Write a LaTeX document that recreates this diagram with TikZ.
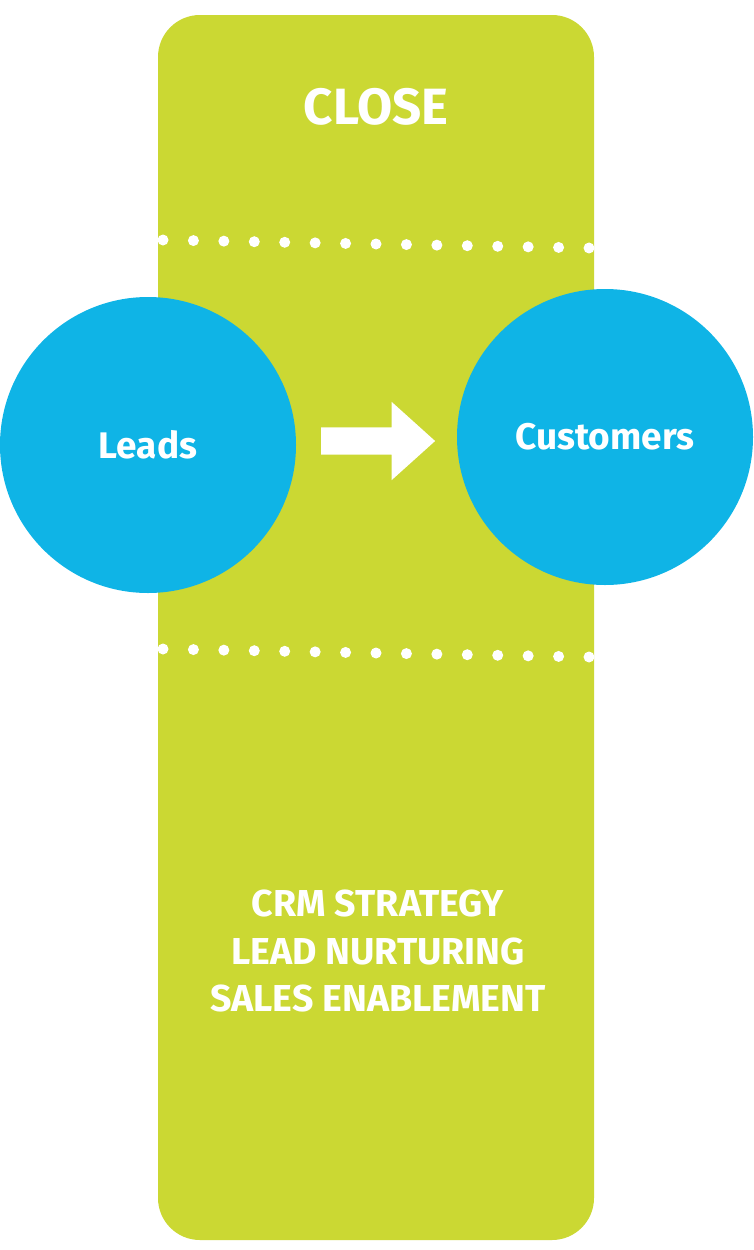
\documentclass[tikz,border=0pt]{standalone}
\usepackage{fontspec}
\setmainfont{Fira Sans}
\usepackage{tikz}
\usetikzlibrary{positioning,calc,shapes.arrows}
\definecolor{stagegreen}{HTML}{CBD833}
\definecolor{circleblue}{HTML}{0FB4E6}

\begin{document}
\begin{tikzpicture}[x=1pt,y=-1pt,
	stage/.style={fill=stagegreen,draw=none,rounded corners=42pt},
	bubble/.style={circle,fill=circleblue,draw=none,minimum size=296pt,inner sep=0pt,font=\fontsize{37}{40}\selectfont\bfseries,text=white},
	caption/.style={text=white,font=\bfseries,align=center},
	blockarrow/.style={single arrow,fill=white,draw=none,inner xsep=0pt,inner ysep=13.5pt,minimum height=114pt,single arrow head extend=25.5pt,single arrow tip angle=84}]
	\useasboundingbox (0,0) rectangle (754,1250);

	%stage
	\fill[stage] (158,15) rectangle (594,1240);
	\node[caption,font=\fontsize{51}{56}\selectfont\bfseries] (close) at (376,107) {CLOSE};

	%dots
	\foreach \i in {0,...,14}{
		\fill[white] (163+\i*30.43,240+\i*0.571) circle (5.5pt);
		\fill[white] (163+\i*30.43,649+\i*0.571) circle (5.5pt);
	}

	%circles
	\node[bubble] (leads) at (148,445) {Leads};
	\node[bubble] (customers) at (605,437) {Customers};

	%arrow
	\node[blockarrow,xshift=-6pt] (arrow) at ($(leads.east)!0.5!(customers.west)$) {};

	%services
	\node[caption,font=\fontsize{37.5}{47.5}\selectfont\bfseries] (services) at (378,951) {CRM STRATEGY\\LEAD NURTURING\\SALES ENABLEMENT};

\end{tikzpicture}
\end{document}
